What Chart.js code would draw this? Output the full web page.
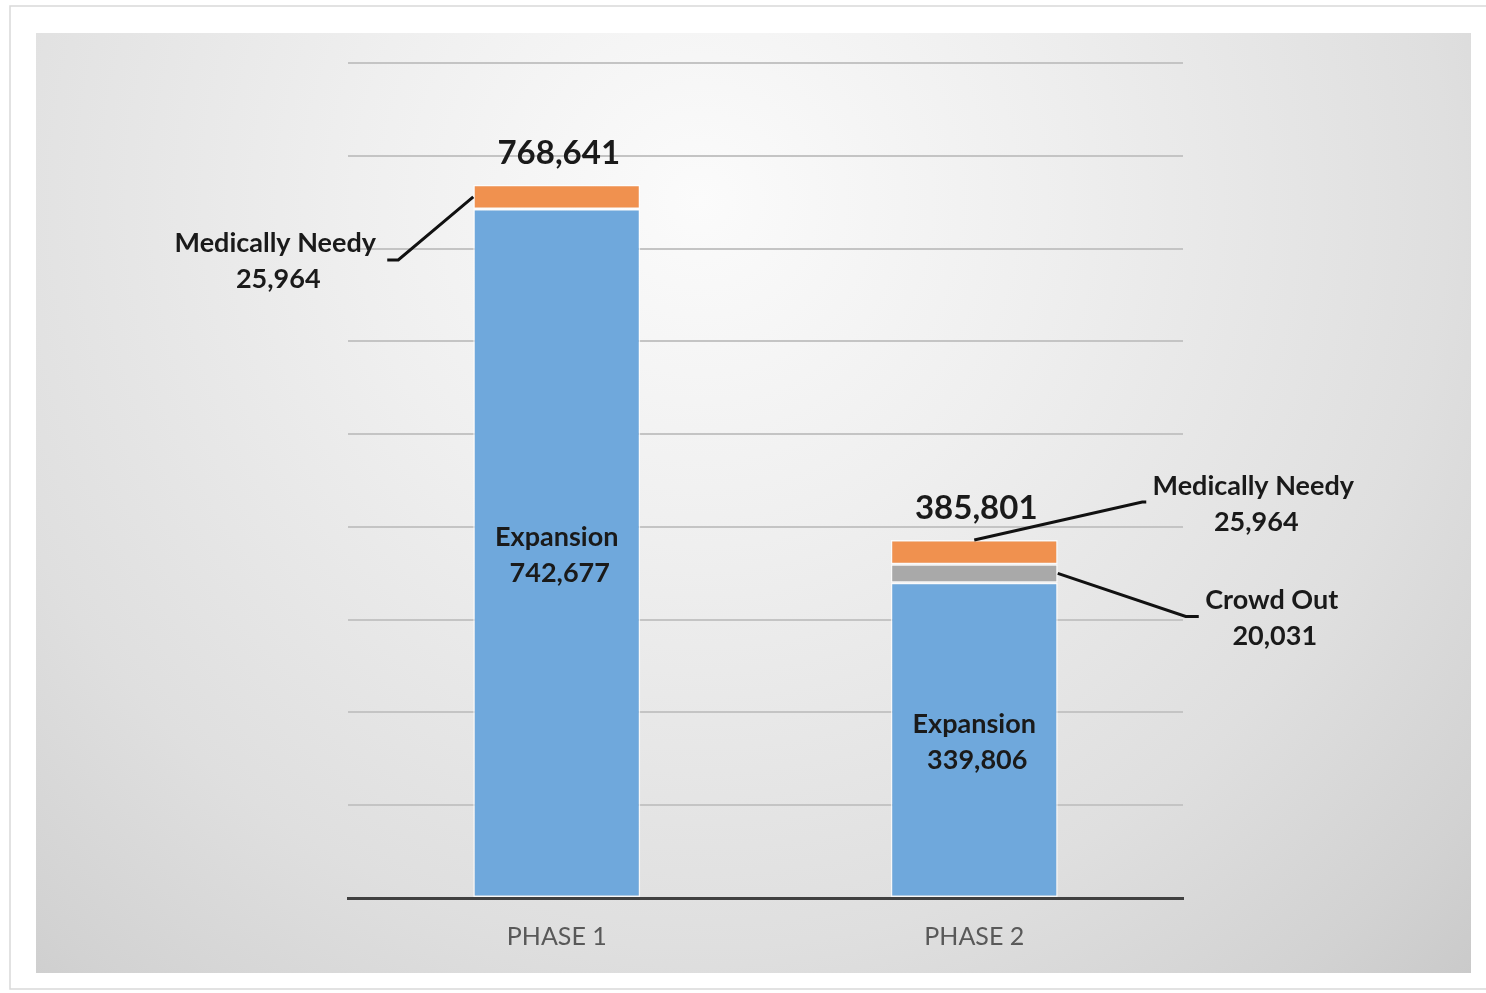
<!DOCTYPE html>
<html>
<head>
    <script src="https://cdn.jsdelivr.net/npm/chart.js@4.4.1/dist/chart.umd.min.js"></script>
    <style>
        html, body {
            margin: 0;
            padding: 0;
            background: white;
            overflow: hidden;
        }
        canvas#enrollChart {
            display: block;
        }
    </style>
</head>
<body>
    <canvas id="enrollChart" width="1486" height="993"></canvas>

    <script>
        // Enrollment by phase
        var phases = ['PHASE 1', 'PHASE 2'];
        var expansion = [742677, 339806];
        var crowdOut = [null, 20031];
        var medicallyNeedy = [25964, 25964];

        var yMax = 900000;
        var yStep = 100000;

        function fmt(n) {
            return n.toLocaleString('en-US');
        }

        // Gray panel with a soft radial light behind the plot
        var panelBackground = {
            id: 'panelBackground',
            beforeDraw: function(chart) {
                var ctx = chart.ctx;
                ctx.save();
                ctx.fillStyle = 'white';
                ctx.fillRect(0, 0, chart.width, chart.height);

                ctx.strokeStyle = '#d9d9d9';
                ctx.lineWidth = 1.5;
                ctx.strokeRect(10, 6, chart.width + 20, chart.height - 10);

                var grad = ctx.createRadialGradient(700, 200, 0, 700, 200, 1150);
                grad.addColorStop(0, '#fbfbfb');
                grad.addColorStop(0.3, '#efefef');
                grad.addColorStop(0.65, '#dfdfdf');
                grad.addColorStop(0.85, '#d2d2d2');
                grad.addColorStop(1, '#c6c6c6');
                ctx.fillStyle = grad;
                ctx.fillRect(36, 33, 1435, 940);
                ctx.restore();
            }
        };

        // Totals, in-bar labels and callouts with leader lines
        var barLabels = {
            id: 'barLabels',
            afterDatasetsDraw: function(chart) {
                var ctx = chart.ctx;
                ctx.save();
                ctx.textAlign = 'center';
                ctx.textBaseline = 'middle';
                ctx.fillStyle = '#1a1a1a';

                var bar = function(ds, i) {
                    return chart.getDatasetMeta(ds).data[i].getProps(['x', 'y', 'base', 'width'], true);
                };

                // stacked totals above each bar
                ctx.font = 'bold 33px Lato';
                phases.forEach(function(p, i) {
                    var total = expansion[i] + (crowdOut[i] || 0) + medicallyNeedy[i];
                    var top = bar(2, i);
                    ctx.fillText(fmt(total), top.x + 2, top.y - 32);
                });

                // expansion values inside the blue segment
                ctx.font = 'bold 27px Lato';
                phases.forEach(function(p, i) {
                    var b = bar(0, i);
                    var mid = (b.y + b.base) / 2;
                    ctx.fillText('Expansion', b.x, mid - 16);
                    ctx.fillText(fmt(expansion[i]), b.x + 3, mid + 20);
                });

                function callout(ax, ay, path, lx, ly, title, value) {
                    ctx.beginPath();
                    ctx.moveTo(ax, ay);
                    path.forEach(function(pt) {
                        ctx.lineTo(ax + pt[0], ay + pt[1]);
                    });
                    ctx.strokeStyle = '#111';
                    ctx.lineWidth = 3;
                    ctx.stroke();
                    ctx.fillText(title, ax + lx, ay + ly);
                    ctx.fillText(fmt(value), ax + lx + 3, ay + ly + 36);
                }

                // phase 1 medically needy, off the left edge
                var mn1 = bar(2, 0);
                callout(mn1.x - mn1.width / 2, (mn1.y + mn1.base) / 2,
                    [[-75, 63], [-86, 63]], -198, 46, 'Medically Needy', medicallyNeedy[0]);

                // phase 2 medically needy, from the top of the bar
                var mn2 = bar(2, 1);
                callout(mn2.x, mn2.y, [[168, -38], [172, -38]], 279, -54, 'Medically Needy', medicallyNeedy[1]);

                // phase 2 crowd out, off the right edge
                var co = bar(1, 1);
                callout(co.x + co.width / 2, (co.y + co.base) / 2,
                    [[128, 43], [141, 43]], 214, 27, 'Crowd Out', crowdOut[1]);

                ctx.restore();
            }
        };

        var ctx = document.getElementById('enrollChart').getContext('2d');

        var chart = new Chart(ctx, {
            type: 'bar',
            data: {
                labels: phases,
                datasets: [{
                    label: 'Expansion',
                    data: expansion,
                    backgroundColor: '#6fa8dc',
                }, {
                    label: 'Crowd Out',
                    data: crowdOut,
                    backgroundColor: '#a9a9a9',
                }, {
                    label: 'Medically Needy',
                    data: medicallyNeedy,
                    backgroundColor: '#f0914f',
                }],
            },
            options: {
                responsive: false,
                animation: false,
                layout: {
                    padding: { left: 348, right: 303, top: 63, bottom: 17 },
                },
                datasets: {
                    bar: {
                        borderColor: 'rgba(255,255,255,0.75)',
                        borderWidth: 1.5,
                        borderSkipped: false,
                        categoryPercentage: 1,
                        barPercentage: 0.4,
                    },
                },
                plugins: {
                    legend: { display: false },
                    tooltip: { enabled: false },
                },
                scales: {
                    x: {
                        stacked: true,
                        grid: { display: false, drawTicks: false },
                        border: { color: '#404040', width: 3 },
                        ticks: {
                            padding: 24,
                            color: '#595959',
                            font: { family: 'Lato', size: 25 },
                        },
                    },
                    y: {
                        stacked: true,
                        min: 0,
                        max: yMax,
                        grid: { color: '#c4c4c4', lineWidth: 2, drawTicks: false },
                        border: { display: false },
                        ticks: { display: false, stepSize: yStep },
                    },
                },
            },
            plugins: [panelBackground, barLabels],
        });
    </script>
</body>
</html>
